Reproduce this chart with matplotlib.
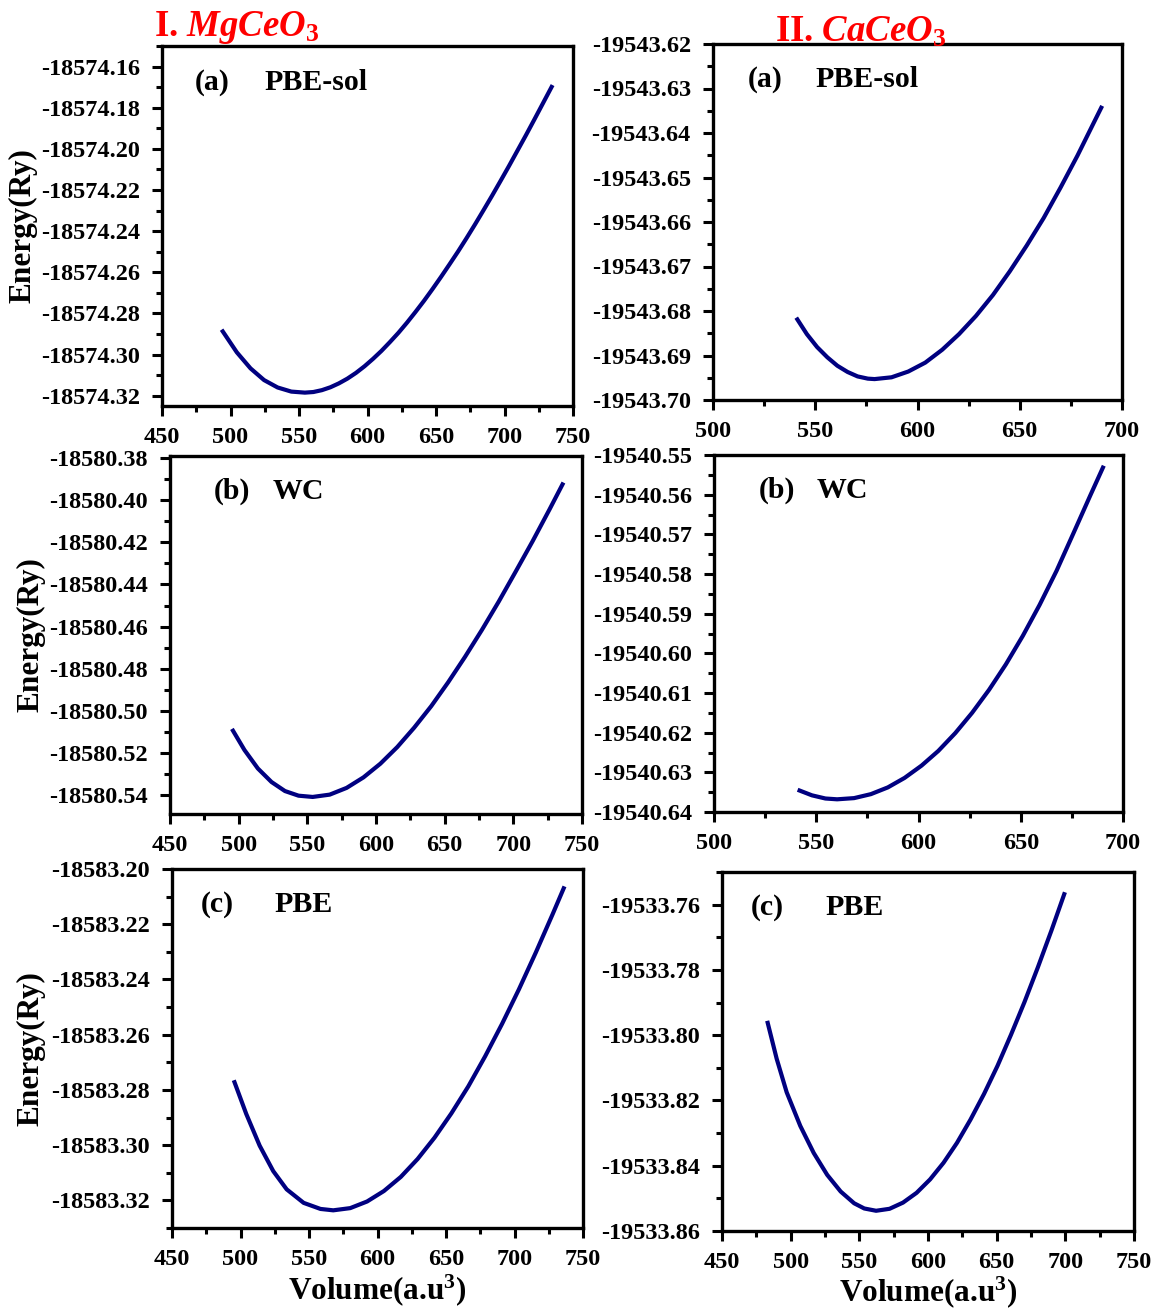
import matplotlib
matplotlib.use('Agg')
import matplotlib.pyplot as plt
from matplotlib.ticker import MultipleLocator, FormatStrFormatter

plt.rcParams['font.family'] = 'Liberation Serif'
plt.rcParams['font.weight'] = 'bold'
plt.rcParams['axes.labelweight'] = 'bold'
plt.rcParams['axes.unicode_minus'] = False
plt.rcParams['mathtext.fontset'] = 'custom'
plt.rcParams['mathtext.rm'] = 'Liberation Serif:bold'
plt.rcParams['mathtext.it'] = 'Liberation Serif:italic:bold'
plt.rcParams['mathtext.bf'] = 'Liberation Serif:bold'

# E-V curves (volume in a.u^3, energy in Ry)
mg_pbesol_v = [493.5, 504.6, 514.6, 524.5, 534.4, 544.4, 554.3, 560.5, 566.7, 572.9,
               579.1, 585.3, 591.6, 597.8, 604.0, 610.2, 616.4, 622.6, 628.8, 635.0,
               641.2, 647.4, 653.6, 659.8, 666.1, 672.3, 678.5, 684.7, 690.9, 697.1,
               703.3, 709.5, 715.7, 721.9, 728.1, 735.1]
mg_pbesol_e = [-18574.2879, -18574.2989, -18574.3067, -18574.3124, -18574.3160,
               -18574.3180, -18574.3185, -18574.3182, -18574.3173, -18574.3159,
               -18574.3140, -18574.3117, -18574.3089, -18574.3057, -18574.3021,
               -18574.2982, -18574.2939, -18574.2894, -18574.2845, -18574.2793,
               -18574.2739, -18574.2682, -18574.2623, -18574.2562, -18574.2499,
               -18574.2434, -18574.2367, -18574.2298, -18574.2228, -18574.2156,
               -18574.2083, -18574.2008, -18574.1933, -18574.1856, -18574.1778,
               -18574.1690]

mg_wc_v = [495.1, 504.2, 514.0, 523.9, 533.7, 543.6, 553.9, 566.3, 578.6, 590.9,
           603.2, 615.5, 627.8, 640.2, 652.5, 664.8, 677.1, 689.4, 701.7, 714.0,
           726.4, 736.5]
mg_wc_e = [-18580.5086, -18580.5186, -18580.5274, -18580.5338, -18580.5381,
           -18580.5403, -18580.5409, -18580.5398, -18580.5366, -18580.5316,
           -18580.5251, -18580.5172, -18580.5080, -18580.4978, -18580.4865,
           -18580.4744, -18580.4616, -18580.4481, -18580.4339, -18580.4195,
           -18580.4043, -18580.3916]

mg_pbe_v = [495.1, 504.2, 514.0, 523.9, 533.7, 546.1, 558.4, 567.7, 580.1, 592.4,
            604.7, 617.0, 629.3, 641.6, 653.9, 666.3, 678.6, 690.9, 703.2, 715.5,
            727.8, 736.5]
mg_pbe_e = [-18583.2765, -18583.2887, -18583.3002, -18583.3094, -18583.3160,
            -18583.3209, -18583.3231, -18583.3236, -18583.3228, -18583.3204,
            -18583.3166, -18583.3115, -18583.3050, -18583.2973, -18583.2885,
            -18583.2787, -18583.2678, -18583.2561, -18583.2436, -18583.2303,
            -18583.2164, -18583.2063]

ca_pbesol_v = [540.7, 545.9, 550.9, 555.9, 560.8, 565.8, 570.7, 575.7, 579.0, 587.3,
               595.5, 603.8, 612.1, 620.3, 628.6, 636.9, 645.1, 653.4, 661.7, 669.9,
               678.2, 686.4, 690.3]
ca_pbesol_e = [-19543.6815, -19543.6852, -19543.6881, -19543.6904, -19543.6923,
               -19543.6937, -19543.6947, -19543.6952, -19543.6953, -19543.6949,
               -19543.6936, -19543.6916, -19543.6887, -19543.6852, -19543.6811,
               -19543.6764, -19543.6711, -19543.6653, -19543.6591, -19543.6523,
               -19543.6451, -19543.6375, -19543.6339]

ca_wc_v = [540.9, 547.9, 554.5, 560.2, 568.5, 576.7, 585.0, 593.2, 601.5, 609.7,
           618.0, 626.2, 634.5, 642.7, 651.0, 659.2, 667.5, 675.7, 684.0, 690.6]
ca_wc_e = [-19540.6344, -19540.6358, -19540.6366, -19540.6368, -19540.6365,
           -19540.6355, -19540.6338, -19540.6314, -19540.6283, -19540.6246,
           -19540.6201, -19540.6150, -19540.6092, -19540.6028, -19540.5956,
           -19540.5878, -19540.5792, -19540.5698, -19540.5602, -19540.5527]

ca_pbe_v = [482.9, 489.8, 497.1, 507.0, 516.8, 526.6, 536.4, 546.2, 553.6, 562.2,
            572.0, 581.8, 591.7, 601.5, 611.3, 621.1, 630.9, 640.8, 650.6, 660.4,
            670.2, 680.0, 689.9, 699.7]
ca_pbe_e = [-19533.7956, -19533.8072, -19533.8175, -19533.8278, -19533.8361,
            -19533.8428, -19533.8479, -19533.8515, -19533.8531, -19533.8538,
            -19533.8532, -19533.8513, -19533.8483, -19533.8442, -19533.8391,
            -19533.8330, -19533.8259, -19533.8180, -19533.8094, -19533.7999,
            -19533.7899, -19533.7792, -19533.7679, -19533.7562]

W, H = 1163, 1310
fig = plt.figure(figsize=(W / 100, H / 100), dpi=100)

# box in pixels (left, right, top, bottom), data, limits, y steps, tag, method,
# tag x position, y-label centre x (px) or None, x-label centre y (px) or None
panels = [
    ((162, 573, 46, 406), mg_pbesol_v, mg_pbesol_e, (450, 750), (-18574.325, -18574.15), 0.02, 0.01, '(a)', 'PBE-sol', 0.08, 23, None),
    ((170, 582, 456, 814), mg_wc_v, mg_wc_e, (450, 750), (-18580.549, -18580.379), 0.02, 0.01, '(b)', 'WC', 0.105, 31, None),
    ((172, 583, 869, 1228), mg_pbe_v, mg_pbe_e, (450, 750), (-18583.33, -18583.20), 0.02, 0.01, '(c)', 'PBE', 0.07, 31, 1290),
    ((713, 1122, 44, 400), ca_pbesol_v, ca_pbesol_e, (500, 700), (-19543.70, -19543.62), 0.01, 0.005, '(a)', 'PBE-sol', 0.085, None, None),
    ((714, 1123, 455, 812), ca_wc_v, ca_wc_e, (500, 700), (-19540.64, -19540.55), 0.01, 0.005, '(b)', 'WC', 0.11, None, None),
    ((722, 1134, 872, 1231), ca_pbe_v, ca_pbe_e, (450, 750), (-19533.86, -19533.75), 0.02, 0.01, '(c)', 'PBE', 0.07, None, 1292),
]

for box, vol, en, xlim, ylim, ymaj, ymin, tag, method, tx, ylab_x, xlab_y in panels:
    l, r, t, b = box
    ax = fig.add_axes([l / W, 1 - b / H, (r - l) / W, (b - t) / H])
    ax.plot(vol, en, color='#000080', lw=3, solid_capstyle='butt')
    ax.set_xlim(*xlim)
    ax.set_ylim(*ylim)
    ax.xaxis.set_major_locator(MultipleLocator(50))
    ax.xaxis.set_minor_locator(MultipleLocator(25))
    ax.yaxis.set_major_locator(MultipleLocator(ymaj))
    ax.yaxis.set_minor_locator(MultipleLocator(ymin))
    ax.yaxis.set_major_formatter(FormatStrFormatter('%.2f'))
    ax.tick_params(which='both', direction='out', width=2.2, top=False, right=False,
                   labelsize=17.5)
    ax.tick_params(axis='y', pad=9)
    ax.tick_params(axis='x', pad=8)
    ax.tick_params(which='major', length=7)
    ax.tick_params(which='minor', length=4)
    for s in ax.spines.values():
        s.set_linewidth(2.4)
    ax.text(tx, 0.9, tag, transform=ax.transAxes, fontsize=21.5, va='center')
    ax.text(0.25, 0.9, method, transform=ax.transAxes, fontsize=21.5, va='center')
    if ylab_x is not None:
        ax.set_ylabel('Energy(Ry)', fontsize=22.5, va='center')
        ax.yaxis.set_label_coords((ylab_x - l) / (r - l), 0.5)
    if xlab_y is not None:
        ax.set_xlabel(r'Volume(a.u$^3$)', fontsize=22.5, va='center')
        ax.xaxis.set_label_coords(0.5, (b - xlab_y) / (b - t))

fig.text(154 / W, 1 - 36 / H, r'I. $\mathit{MgCeO_3}$', color='red', fontsize=26.5, va='baseline')
fig.text(775 / W, 1 - 42 / H, r'II. $\mathit{CaCeO_3}$', color='red', fontsize=26.5, va='baseline')

fig.savefig('out.png', dpi=100)
